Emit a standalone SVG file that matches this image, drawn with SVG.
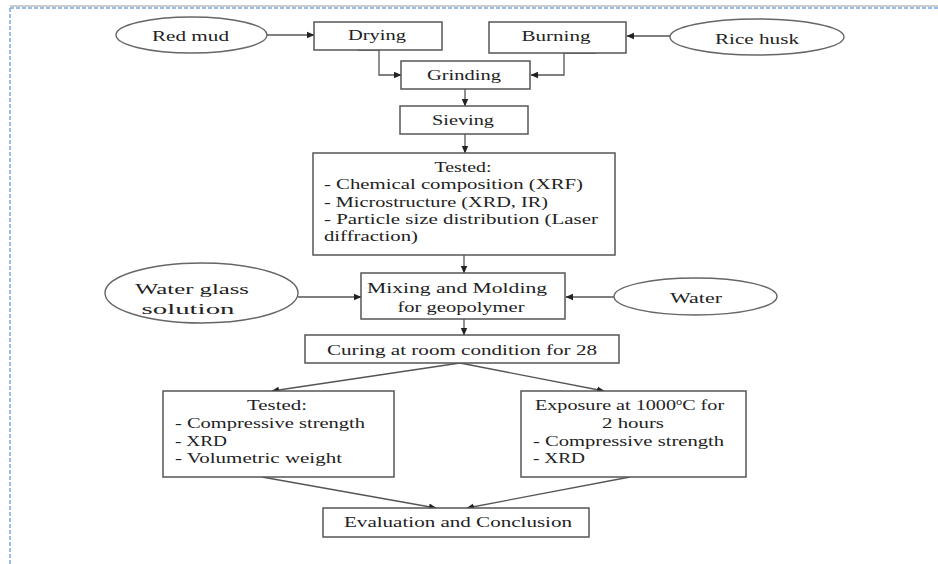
<svg xmlns="http://www.w3.org/2000/svg" width="938" height="564" viewBox="0 0 938 564">
<defs>
<marker id="ah" markerWidth="8" markerHeight="8" refX="7" refY="4" orient="auto" markerUnits="userSpaceOnUse">
<path d="M0,0.8 L7.5,4 L0,7.2 Z" fill="#222"/>
</marker>
<style>
.box{fill:#fff;stroke:#555;stroke-width:1.5}
.ell{fill:#fff;stroke:#666;stroke-width:1.4}
.con{fill:none;stroke:#555;stroke-width:1.3}
.arr{marker-end:url(#ah)}
text{font-family:"Liberation Serif","Times New Roman",serif;font-size:15.5px;fill:#222}
.c{text-anchor:middle}
</style>
</defs>
<rect width="938" height="564" fill="#fff"/>
<g id="frame">
<line x1="10" y1="6" x2="938" y2="6" stroke="#999" stroke-width="1"/>
<line x1="10" y1="8" x2="938" y2="8" stroke="#7aa6e6" stroke-width="1.5" stroke-dasharray="4,2"/>
<line x1="10" y1="8" x2="10" y2="564" stroke="#7aa6e6" stroke-width="1.5" stroke-dasharray="4,2"/>
</g>
<g id="connectors">
<line class="con arr" x1="267" y1="35" x2="314" y2="35"/>
<line class="con arr" x1="670" y1="36" x2="627" y2="36"/>
<path class="con arr" d="M358,50 H379 V75 H401"/>
<path class="con arr" d="M596,53 H564 V75 H531"/>
<line class="con arr" x1="465" y1="89" x2="465" y2="106"/>
<line class="con arr" x1="465" y1="134" x2="465" y2="153"/>
<line class="con arr" x1="464" y1="255" x2="464" y2="273"/>
<line class="con arr" x1="298" y1="297" x2="361" y2="297"/>
<line class="con arr" x1="614" y1="297" x2="566" y2="297"/>
<line class="con arr" x1="464" y1="319" x2="464" y2="335"/>
<line class="con arr" x1="460" y1="363" x2="272" y2="391"/>
<line class="con arr" x1="460" y1="363" x2="604" y2="391"/>
<line class="con arr" x1="262" y1="477" x2="436" y2="508"/>
<line class="con arr" x1="630" y1="477" x2="467" y2="508"/>
</g>
<g id="redmud">
<ellipse class="ell" cx="191.5" cy="35" rx="75.5" ry="18"/>
<text class="c" x="190.5" y="41" textLength="77" lengthAdjust="spacingAndGlyphs">Red mud</text>
</g>
<g id="drying">
<rect class="box" x="314" y="22" width="128" height="28"/>
<text class="c" x="377" y="40" textLength="58" lengthAdjust="spacingAndGlyphs">Drying</text>
</g>
<g id="burning">
<rect class="box" x="489" y="22" width="137" height="31"/>
<text class="c" x="556" y="41" textLength="69" lengthAdjust="spacingAndGlyphs">Burning</text>
</g>
<g id="ricehusk">
<ellipse class="ell" cx="757" cy="37" rx="87" ry="18"/>
<text class="c" x="757" y="44" textLength="84" lengthAdjust="spacingAndGlyphs">Rice husk</text>
</g>
<g id="grinding">
<rect class="box" x="401" y="61" width="129" height="28"/>
<text class="c" x="464" y="80" textLength="74" lengthAdjust="spacingAndGlyphs">Grinding</text>
</g>
<g id="sieving">
<rect class="box" x="400" y="106" width="128" height="28"/>
<text class="c" x="463" y="125" textLength="62" lengthAdjust="spacingAndGlyphs">Sieving</text>
</g>
<g id="tested1">
<rect class="box" x="313" y="153" width="302" height="102"/>
<text class="c" x="463" y="171.5" textLength="57" lengthAdjust="spacingAndGlyphs">Tested:</text>
<text x="324" y="189" textLength="259" lengthAdjust="spacingAndGlyphs">- Chemical composition (XRF)</text>
<text x="324" y="206.5" textLength="224" lengthAdjust="spacingAndGlyphs">- Microstructure (XRD, IR)</text>
<text x="324" y="224" textLength="274" lengthAdjust="spacingAndGlyphs">- Particle size distribution (Laser</text>
<text x="324" y="241" textLength="94" lengthAdjust="spacingAndGlyphs">diffraction)</text>
</g>
<g id="waterglass">
<ellipse class="ell" cx="201.5" cy="293" rx="96.5" ry="30"/>
<text class="c" x="192" y="294" textLength="114" lengthAdjust="spacingAndGlyphs">Water glass</text>
<text class="c" x="188" y="314" textLength="93" lengthAdjust="spacingAndGlyphs">solution</text>
</g>
<g id="mixing">
<rect class="box" x="361" y="273" width="204" height="46"/>
<text class="c" x="457" y="293" textLength="180" lengthAdjust="spacingAndGlyphs">Mixing and Molding</text>
<text class="c" x="461" y="312" textLength="127" lengthAdjust="spacingAndGlyphs">for geopolymer</text>
</g>
<g id="water">
<ellipse class="ell" cx="695.5" cy="296.5" rx="81.5" ry="18.5"/>
<text class="c" x="696" y="303" textLength="52" lengthAdjust="spacingAndGlyphs">Water</text>
</g>
<g id="curing">
<rect class="box" x="305" y="335" width="314" height="28"/>
<text class="c" x="462" y="355" textLength="270" lengthAdjust="spacingAndGlyphs">Curing at room condition for 28</text>
</g>
<g id="tested2">
<rect class="box" x="163" y="391" width="231" height="86"/>
<text class="c" x="277" y="410" textLength="60" lengthAdjust="spacingAndGlyphs">Tested:</text>
<text x="175" y="428" textLength="190" lengthAdjust="spacingAndGlyphs">- Compressive strength</text>
<text x="175" y="445.5" textLength="52" lengthAdjust="spacingAndGlyphs">- XRD</text>
<text x="175" y="463" textLength="167" lengthAdjust="spacingAndGlyphs">- Volumetric weight</text>
</g>
<g id="exposure">
<rect class="box" x="521" y="391" width="225" height="86"/>
<text transform="translate(535,410) scale(1.3,1)" x="0" y="0">Exposure at 1000<tspan font-size="9.5" dy="-5.5">o</tspan><tspan dy="5.5">C for</tspan></text>
<text class="c" x="633" y="428" textLength="62" lengthAdjust="spacingAndGlyphs">2 hours</text>
<text x="533" y="445.5" textLength="191" lengthAdjust="spacingAndGlyphs">- Compressive strength</text>
<text x="533" y="463" textLength="52" lengthAdjust="spacingAndGlyphs">- XRD</text>
</g>
<g id="evaluation">
<rect class="box" x="323" y="508" width="266" height="29"/>
<text class="c" x="458" y="527" textLength="228" lengthAdjust="spacingAndGlyphs">Evaluation and Conclusion</text>
</g>
</svg>
